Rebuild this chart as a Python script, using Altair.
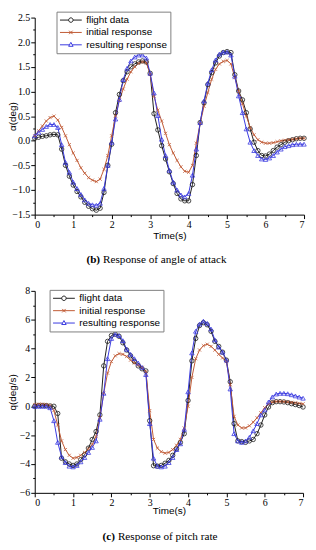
import altair as alt
import pandas as pd

time = [0.0, 0.1, 0.2, 0.3, 0.4, 0.5, 0.6, 0.7, 0.8, 0.9,
        1.0, 1.1, 1.2, 1.3, 1.4, 1.5, 1.6, 1.7, 1.8, 1.9,
        2.0, 2.1, 2.2, 2.3, 2.4, 2.5, 2.6, 2.7, 2.8, 2.9,
        3.0, 3.1, 3.2, 3.3, 3.4, 3.5, 3.6, 3.7, 3.8, 3.9,
        4.0, 4.1, 4.2, 4.3, 4.4, 4.5, 4.6, 4.7, 4.8, 4.9,
        5.0, 5.1, 5.2, 5.3, 5.4, 5.5, 5.6, 5.7, 5.8, 5.9,
        6.0, 6.1, 6.2, 6.3, 6.4, 6.5, 6.6, 6.7, 6.8, 6.9,
        7.0]

series = ["flight data", "initial response", "resulting response"]
colors = ["#1e1e1e", "#c05a35", "#3a3ae0"]

alpha_flight = [0.05, 0.07, 0.09, 0.10, 0.12, 0.13, 0.12, -0.17, -0.50, -0.72,
                -0.90, -1.03, -1.14, -1.25, -1.33, -1.38, -1.41, -1.37, -1.05, -0.50,
                -0.07, 0.57, 0.94, 1.22, 1.40, 1.50, 1.56, 1.60, 1.62, 1.60,
                1.37, 0.55, 0.22, -0.10, -0.37, -0.63, -0.87, -1.07, -1.18, -1.22,
                -1.22, -0.89, -0.30, 0.37, 0.77, 1.14, 1.38, 1.58, 1.72, 1.79,
                1.81, 1.79, 1.34, 1.01, 0.83, 0.57, 0.24, -0.03, -0.20, -0.30,
                -0.31, -0.27, -0.20, -0.13, -0.08, -0.03, 0.00, 0.02, 0.04, 0.05,
                0.05]
alpha_initial = [0.10, 0.20, 0.30, 0.40, 0.47, 0.50, 0.42, 0.27, 0.10, -0.08,
                 -0.25, -0.40, -0.55, -0.66, -0.75, -0.80, -0.83, -0.78, -0.58, -0.30,
                 0.10, 0.50, 0.82, 1.05, 1.25, 1.40, 1.50, 1.57, 1.60, 1.58,
                 1.35, 0.90, 0.62, 0.40, 0.15, -0.08, -0.25, -0.40, -0.53, -0.62,
                 -0.64, -0.50, -0.05, 0.35, 0.70, 0.98, 1.25, 1.45, 1.56, 1.61,
                 1.63, 1.56, 1.28, 1.00, 0.75, 0.50, 0.27, 0.12, 0.02, -0.03,
                 -0.05, -0.05, -0.04, -0.02, 0.00, 0.01, 0.02, 0.03, 0.04, 0.05,
                 0.05]
alpha_result = [0.10, 0.17, 0.23, 0.29, 0.33, 0.33, 0.27, -0.08, -0.44, -0.64,
                -0.84, -0.97, -1.09, -1.20, -1.27, -1.30, -1.31, -1.27, -0.97, -0.50,
                -0.03, 0.44, 0.84, 1.24, 1.47, 1.62, 1.70, 1.74, 1.74, 1.68,
                1.37, 0.97, 0.51, 0.03, -0.30, -0.60, -0.84, -1.00, -1.10, -1.14,
                -1.07, -0.70, -0.17, 0.37, 0.81, 1.17, 1.44, 1.64, 1.76, 1.80,
                1.80, 1.74, 1.31, 0.91, 0.57, 0.24, -0.03, -0.20, -0.30, -0.37,
                -0.38, -0.35, -0.30, -0.23, -0.17, -0.12, -0.10, -0.08, -0.07, -0.07,
                -0.07]

q_flight = [0.00, 0.05, 0.05, 0.05, 0.02, 0.00, -0.50, -3.60, -3.85, -4.00,
            -4.10, -4.00, -3.70, -3.35, -2.90, -2.30, -1.75, -0.60, 2.80, 4.50,
            4.90, 5.00, 4.85, 4.40, 3.90, 3.50, 3.10, 2.80, 2.60, 2.45,
            -1.00, -4.12, -4.15, -4.10, -3.95, -3.75, -3.40, -2.95, -2.50, -1.90,
            0.40, 3.15, 4.70, 5.60, 5.80, 5.65, 5.20, 4.50, 4.15, 3.75,
            3.20, 1.70, -1.20, -2.40, -2.45, -2.50, -2.40, -2.30, -1.90, -1.30,
            -0.60, -0.05, 0.25, 0.32, 0.32, 0.30, 0.25, 0.18, 0.12, 0.05,
            -0.05]
q_initial = [0.12, 0.15, 0.15, 0.12, 0.05, -0.30, -1.30, -2.40, -3.00, -3.40,
             -3.60, -3.55, -3.40, -3.20, -2.95, -2.65, -2.10, -0.80, 0.90, 2.30,
             3.10, 3.50, 3.65, 3.60, 3.45, 3.20, 3.00, 2.85, 2.70, 2.40,
             -0.30, -2.30, -2.90, -3.15, -3.25, -3.20, -3.00, -2.70, -2.30, -1.50,
             0.00, 2.00, 3.30, 3.90, 4.20, 4.30, 4.15, 3.90, 3.60, 3.35,
             3.10, 1.50, -0.70, -1.30, -1.50, -1.50, -1.35, -1.10, -0.80, -0.45,
             -0.10, 0.15, 0.30, 0.33, 0.33, 0.32, 0.30, 0.27, 0.24, 0.20,
             0.17]
q_result = [0.00, 0.00, 0.00, 0.00, -0.10, -1.00, -2.50, -3.50, -3.90, -4.15,
            -4.20, -4.10, -3.85, -3.55, -3.20, -2.85, -2.40, -0.90, 0.90, 3.30,
            4.70, 5.00, 4.90, 4.55, 3.95, 3.60, 3.30, 3.00, 2.70, 2.20,
            -1.20, -3.60, -4.15, -4.20, -4.15, -3.90, -3.55, -3.00, -2.60, -1.60,
            1.00, 3.70, 5.20, 5.70, 5.90, 5.75, 5.35, 4.60, 4.10, 3.75,
            3.20, 1.20, -1.90, -2.40, -2.50, -2.40, -2.15, -1.70, -1.20, -0.60,
            -0.25, 0.30, 0.65, 0.85, 0.90, 0.90, 0.87, 0.80, 0.72, 0.64,
            0.56]

x_ticks = [0, 0.5, 1, 1.5, 2, 2.5, 3, 3.5, 4, 4.5, 5, 5.5, 6, 6.5, 7]
alpha_ticks = [-1.5, -1.25, -1.0, -0.75, -0.5, -0.25, 0.0, 0.25, 0.5, 0.75,
               1.0, 1.25, 1.5, 1.75, 2.0, 2.25, 2.5]
q_ticks = [-6, -5, -4, -3, -2, -1, 0, 1, 2, 3, 4, 5, 6, 7, 8]

SERIF = "Liberation Serif"
SANS = "Liberation Sans"
X_PATH = "M-1,-1L1,1M-1,1L1,-1"
marker_shapes = ["circle", X_PATH, "triangle-up"]
marker_sizes = [20, 10, 20]

# legend glyphs: a line with the series marker in its middle
leg_paths = [
    "M-1,0H0.75M1.65,0H3.4M1.65,0A0.45,0.45,0,1,1,0.75,0A0.45,0.45,0,1,1,1.65,0",
    "M-1,0H3.4M0.85,-0.35L1.55,0.35M0.85,0.35L1.55,-0.35",
    "M-1,0H0.92M1.48,0H3.4M1.2,-0.5L1.65,0.3L0.75,0.3Z",
]
leg_shape_expr = (f"datum.value === '{series[0]}' ? '{leg_paths[0]}' : "
                  f"datum.value === '{series[1]}' ? '{leg_paths[1]}' : '{leg_paths[2]}'")


def make_df(vals):
    rows = []
    for name, vs in zip(series, vals):
        for t, v in zip(time, vs):
            rows.append({"t": t, "v": v, "s": name})
    return pd.DataFrame(rows)


def panel(vals, ydomain, yticks, major_test, label_fmt, ytitle, w, h,
          lx, ly, tag, caption, tag_x, cap_x, cap_dy, xtitle_pad):
    df = make_df(vals)
    legend = alt.Legend(orient="none", legendX=lx, legendY=ly, title=None,
                        symbolType={"expr": leg_shape_expr}, symbolSize=100,
                        symbolStrokeWidth=1, symbolFillColor="white",
                        labelFont=SANS, labelFontSize=10, labelColor="black",
                        labelOffset=16, padding=3, rowPadding=1.5,
                        fillColor="white", strokeColor="#808080")
    color = alt.Color("s:N", scale=alt.Scale(domain=series, range=colors), legend=legend)
    x = alt.X("t:Q", scale=alt.Scale(domain=[0, 7], nice=False),
              axis=alt.Axis(values=x_ticks, title="Time(s)", titleFont=SANS,
                            titleFontSize=10, titleFontWeight="normal",
                            titlePadding=xtitle_pad,
                            labelExpr="datum.value % 1 === 0 ? format(datum.value, 'd') : ''",
                            tickSize={"condition": {"test": "datum.value % 1 === 0", "value": 4}, "value": 2},
                            labelFont=SERIF, labelFontSize=10, labelPadding=1))
    y = alt.Y("v:Q", scale=alt.Scale(domain=ydomain, nice=False, zero=False),
              axis=alt.Axis(values=yticks, title=ytitle, titleFont=SANS,
                            titleFontSize=10, titleFontWeight="normal",
                            titleX=-17, titleAngle=270,
                            labelExpr=f"{major_test} ? format(datum.value, '{label_fmt}') : ''",
                            tickSize={"condition": {"test": major_test, "value": 4}, "value": 2},
                            labelFont=SERIF, labelFontSize=10, labelPadding=1))
    base = alt.Chart(df)
    layers = [base.mark_line(strokeWidth=1).encode(x=x, y=y, color=color)]
    for name, col, shp, sz in zip(series, colors, marker_shapes, marker_sizes):
        layers.append(
            base.transform_filter(alt.datum.s == name).mark_point(
                filled=False, strokeWidth=0.8, size=sz, shape=shp, color=col, opacity=1
            ).encode(x=x, y=y))
    cap_df = pd.DataFrame({"tag": [tag], "cap": [caption]})
    layers.append(alt.Chart(cap_df).mark_text(font=SERIF, fontSize=11.3, fontWeight="bold",
                                              align="right", baseline="middle", color="black").encode(
        text="tag:N", x=alt.value(tag_x), y=alt.value(h + cap_dy)))
    layers.append(alt.Chart(cap_df).mark_text(font=SERIF, fontSize=11.3, align="left",
                                              baseline="middle", color="black").encode(
        text="cap:N", x=alt.value(cap_x), y=alt.value(h + cap_dy)))
    return alt.layer(*layers).properties(width=w, height=h)


top = panel([alpha_flight, alpha_initial, alpha_result], [-1.5, 2.5], alpha_ticks,
            "(datum.value * 2) % 1 === 0", ".1f", "\u03b1(deg)", 272, 199,
            22, -6, "(b)", "Response of angle of attack", 66, 69, 46, 1)
bottom = panel([q_flight, q_initial, q_result], [-6, 8], q_ticks,
               "datum.value % 2 === 0", "d", "q(deg/s)", 271, 204,
               15, -1, "(c)", "Response of pitch rate", 81, 84, 45, -2)

chart = alt.vconcat(top, bottom, spacing=20).resolve_scale(
    color="independent").resolve_legend(color="independent").properties(
    padding={"left": 0, "top": 0, "right": 0, "bottom": 0}
).configure_view(stroke=None).configure_axis(
    grid=False, domainColor="black", tickColor="black", labelColor="black",
    titleColor="black", domainWidth=1, tickWidth=1)

chart.save("out.html", embed_options={"renderer": "svg", "actions": False})
